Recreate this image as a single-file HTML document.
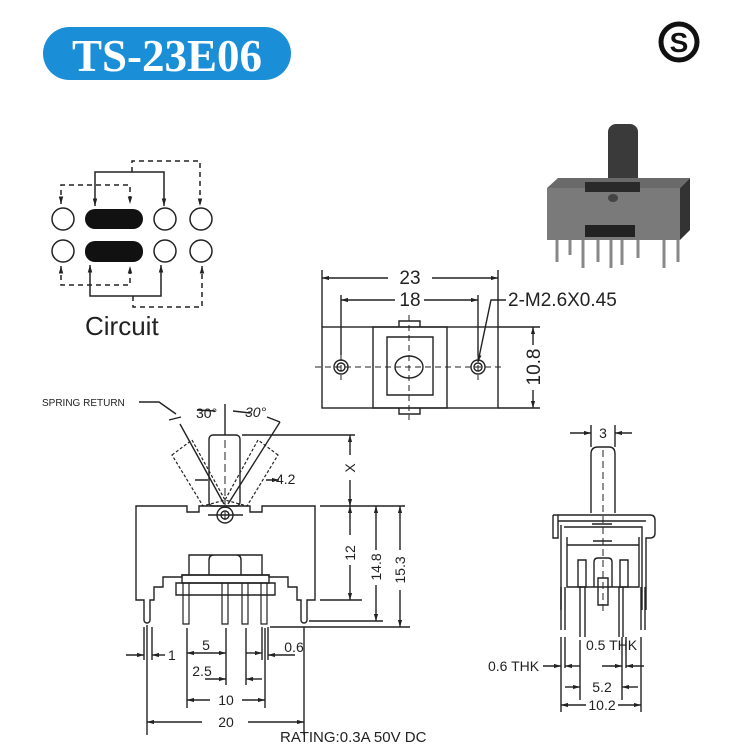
<!DOCTYPE html>
<html><head><meta charset="utf-8"><style>
html,body{margin:0;padding:0;background:#fff;width:735px;height:744px;overflow:hidden}
svg{display:block}
text{font-family:"Liberation Sans",sans-serif;fill:#222}
</style></head><body>
<svg width="735" height="744" viewBox="0 0 735 744" xmlns="http://www.w3.org/2000/svg">
<defs>
<marker id="a" viewBox="0 0 10 10" refX="10" refY="5" markerWidth="7" markerHeight="5" orient="auto-start-reverse"><path d="M0,2 L10,5 L0,8z" fill="#222"/></marker>
</defs>
<rect x="43" y="27" width="248" height="53" rx="26.5" fill="#1a8fd8"/>
<text x="167" y="71" text-anchor="middle" style="font-family:'Liberation Serif',serif;font-weight:bold;font-size:45px;fill:#fff">TS-23E06</text>
<circle cx="679" cy="42" r="18" fill="none" stroke="#111" stroke-width="5"/>
<text x="679" y="52" text-anchor="middle" style="font-weight:bold;font-size:28px;fill:#111">S</text>

<g fill="none" stroke="#222" stroke-width="1.5">
<circle cx="63" cy="219" r="11"/><circle cx="165" cy="219" r="11"/><circle cx="201" cy="219" r="11"/>
<circle cx="63" cy="251" r="11"/><circle cx="165" cy="251" r="11"/><circle cx="201" cy="251" r="11"/>
<path d="M95,206 V172 H164 V206" marker-start="url(#a)" marker-end="url(#a)"/>
<path d="M90,265 V296 H161 V265" marker-start="url(#a)" marker-end="url(#a)"/>
<path d="M132,172 V161 H200 V206" stroke-dasharray="5,4" marker-end="url(#a)"/>
<path d="M61,204 V185 H130 V204" stroke-dasharray="5,4" marker-start="url(#a)" marker-end="url(#a)"/>
<path d="M61,266 V285 H130 V266" stroke-dasharray="5,4" marker-start="url(#a)" marker-end="url(#a)"/>
<path d="M133,296 V307 H202 V266" stroke-dasharray="5,4" marker-end="url(#a)"/>
</g>
<rect x="85" y="209" width="58" height="20" rx="10" fill="#111"/>
<rect x="85" y="241" width="58" height="21" rx="10" fill="#111"/>
<text x="85" y="335" style="font-size:26px">Circuit</text>

<rect x="608" y="124" width="30" height="66" rx="8" fill="#3a3a3a"/>
<path d="M547,188 L558,178 L690,178 L680,188z" fill="#6a6a6a"/>
<rect x="547" y="188" width="133" height="52" fill="#7a7a7a"/>
<path d="M680,188 L690,178 L690,230 L680,240z" fill="#333"/>
<rect x="585" y="182" width="55" height="10" fill="#2a2a2a"/>
<rect x="585" y="225" width="50" height="12" fill="#222"/>
<ellipse cx="613" cy="198" rx="5" ry="4" fill="#444"/>
<g stroke="#888" stroke-width="3">
<path d="M557,240V262M570,240V255M583,240V268M598,240V262M611,240V268M622,240V265M638,240V258M664,240V268M678,240V262"/>
</g>

<g fill="none" stroke="#222" stroke-width="1.4">
<rect x="322" y="327" width="176" height="81"/>
<rect x="373" y="327" width="74" height="81"/>
<path d="M387,337 H433 V395 H387z"/>
<path d="M399,327 V321 H420 V327 M399,408 V414 H420 V408"/>
<ellipse cx="409" cy="367" rx="14" ry="11"/>
<circle cx="341" cy="367" r="7"/><circle cx="341" cy="367" r="4"/>
<circle cx="478" cy="367" r="7"/><circle cx="478" cy="367" r="4"/>
<path d="M315,367 H505 M409,315 V420 M341,355 V380 M478,355 V380" stroke-dasharray="6,4" stroke-width="1"/>
<path d="M322,327 V270 M498,327 V270 M341,355 V295 M478,355 V295"/>
<path d="M322,278 H388 M432,278 H498" marker-start="url(#a)" marker-end="url(#a)"/>
<path d="M341,300 H395 M424,300 H478" marker-start="url(#a)" marker-end="url(#a)"/>
<path d="M478,362 L491,300 H506" marker-start="url(#a)"/>
<path d="M498,327 H540 M498,408 H540"/>
<path d="M533,327 V345 M533,390 V408" marker-start="url(#a)" marker-end="url(#a)"/>
</g>
<text x="410" y="284" text-anchor="middle" style="font-size:19px">23</text>
<text x="410" y="306" text-anchor="middle" style="font-size:19px">18</text>
<text x="508" y="306" style="font-size:19px">2-M2.6X0.45</text>
<text transform="translate(540,367) rotate(-90)" text-anchor="middle" style="font-size:19px">10.8</text>

<text x="42" y="406" style="font-size:10px">SPRING RETURN</text>
<g fill="none" stroke="#222" stroke-width="1.4">
<path d="M139,402 H159 L176,414"/>
<path d="M169,420 L181,417 M197,410 L215,411 M233,411 L250,413 M267,417 L280,422"/>
<path d="M225,404 V435"/>
<path d="M180,424 L224,504 M280,422 L228,504"/>
<rect x="209" y="435" width="31" height="71" rx="4"/>
<g stroke-dasharray="3,2" stroke-width="1.2">
<path d="M172,455 L192,440 L225,500 L203,506z"/>
<path d="M278,455 L258,440 L225,500 L247,506z"/>
</g>
<path d="M225,440 V520" stroke-dasharray="8,4" stroke-width="1"/>
<path d="M136,600 V506 H187 V512 H199 V506 H250 V512 H262 V506 H315 V600 H307 V620 A3,3 0 0 1 301,620 V600 H297 V587 H288 V577 H269 V575 H182 V577 H163 V587 H154 V600 H150 V620 A3,3 0 0 1 144,620 V600 z"/>
<circle cx="225" cy="515" r="8"/><circle cx="225" cy="515" r="4"/>
<path d="M208,515 H243"/>
<path d="M189,575 V555 H262 V575 M209,575 V560 Q209,555 214,555 H236 Q241,555 241,560 V575"/>
<path d="M182,575 H269 V583 H182z"/>
<path d="M176,583 H275 V595 H176z"/>
<g stroke-width="1.2"><path d="M183,583 V624 H189 V583 M222,583 V624 H228 V583 M242,583 V624 H248 V583 M261,583 V624 H267 V583"/></g>
<path d="M242,435 H355 M320,506 H405 M320,600 H362 M309,621 H383 M270,627 H410"/>
<path d="M350,435 V455 M350,480 V506" marker-start="url(#a)" marker-end="url(#a)"/>
<path d="M350,506 V535 M350,565 V600" marker-start="url(#a)" marker-end="url(#a)"/>
<path d="M376,506 V550 M376,585 V621" marker-start="url(#a)" marker-end="url(#a)"/>
<path d="M400,506 V550 M400,590 V627" marker-start="url(#a)" marker-end="url(#a)"/>
<path d="M195,480 H208 M266,480 H279" marker-end="url(#a)"/>
<path d="M147,625 V735 M187,628 V708 M226,628 V685 M246,628 V685 M265,628 V708 M304,627 V735 M144,627 V660 M152,627 V660 M262,627 V660 M268,627 V660"/>
<path d="M126,655 H144" marker-end="url(#a)"/><path d="M165,655 H152" marker-end="url(#a)"/>
<path d="M187,653 H226" marker-start="url(#a)" marker-end="url(#a)"/>
<path d="M205,679 H226" marker-end="url(#a)"/>
<path d="M246,653 H262" marker-end="url(#a)"/><path d="M295,655 H268" marker-end="url(#a)"/>
<path d="M246,679 H262" marker-start="url(#a)"/>
<path d="M187,700 H210 M242,700 H265" marker-start="url(#a)" marker-end="url(#a)"/>
<path d="M147,722 H202 M248,722 H304" marker-start="url(#a)" marker-end="url(#a)"/>
</g>
<text x="196" y="418" style="font-size:14px">30°</text>
<text x="245" y="417" style="font-size:14px;font-style:italic">30°</text>
<text x="276" y="484" style="font-size:14px">4.2</text>
<text transform="translate(355,468) rotate(-90)" text-anchor="middle" style="font-size:14px">X</text>
<text transform="translate(355,553) rotate(-90)" text-anchor="middle" style="font-size:14px">12</text>
<text transform="translate(381,567) rotate(-90)" text-anchor="middle" style="font-size:14px">14.8</text>
<text transform="translate(405,570) rotate(-90)" text-anchor="middle" style="font-size:14px">15.3</text>
<text x="168" y="660" style="font-size:14px">1</text>
<text x="206" y="650" text-anchor="middle" style="font-size:14px">5</text>
<text x="202" y="676" text-anchor="middle" style="font-size:14px">2.5</text>
<text x="294" y="652" text-anchor="middle" style="font-size:14px">0.6</text>
<text x="226" y="705" text-anchor="middle" style="font-size:14px">10</text>
<text x="226" y="727" text-anchor="middle" style="font-size:14px">20</text>
<text x="280" y="742" style="font-size:15px">RATING:0.3A 50V DC</text>

<g fill="none" stroke="#222" stroke-width="1.4">
<path d="M591,513 V454 Q591,447 598,447 H609 Q615,447 615,454 V513"/>
<path d="M603,450 V612" stroke-dasharray="7,4" stroke-width="1"/>
<path d="M553,515 H650 Q655,515 655,520 V533 Q655,538 650,538 H646 V610 M558,515 V538 H553 V515 M558,521 H646 M561,525 V610 M564,527 H642 V610"/>
<path d="M567,545 H639 V587 H567z M567,537 V545 M639,537 V545"/>
<path d="M592,524 H612 M593,541 H612"/>
<path d="M578,560 V587 H586 V560z M620,560 V587 H628 V560z"/>
<path d="M594,587 V562 Q594,558 598,558 H608 Q612,558 612,562 V587"/>
<path d="M598,578 H608 V605 H598z"/>
<path d="M561,587 V630 M565,587 V630 M580,587 V637 M585,587 V637 M619,587 V637 M623,587 V637 M641,587 V630 M645,587 V630"/>
<path d="M591,447 V425 M615,447 V425"/>
<path d="M570,433 H591" marker-end="url(#a)"/><path d="M632,433 H615" marker-end="url(#a)"/>
<path d="M561,637 V712 M565,637 V668 M580,640 V700 M622,637 V700 M626,637 V668 M641,637 V712"/>
<path d="M543,666 H561" marker-end="url(#a)"/><path d="M580,666 H565" marker-end="url(#a)"/>
<path d="M602,666 H622" marker-end="url(#a)"/><path d="M644,666 H626" marker-end="url(#a)"/>
<path d="M565,687 H580" marker-end="url(#a)"/><path d="M638,687 H622" marker-end="url(#a)"/>
<path d="M561,705 H586 M618,705 H641" marker-start="url(#a)" marker-end="url(#a)"/>
</g>
<text x="603" y="438" text-anchor="middle" style="font-size:14px">3</text>
<text x="488" y="671" style="font-size:14px">0.6 THK</text>
<text x="586" y="650" style="font-size:14px">0.5 THK</text>
<text x="602" y="692" text-anchor="middle" style="font-size:14px">5.2</text>
<text x="602" y="710" text-anchor="middle" style="font-size:14px">10.2</text>
</svg>
</body></html>
